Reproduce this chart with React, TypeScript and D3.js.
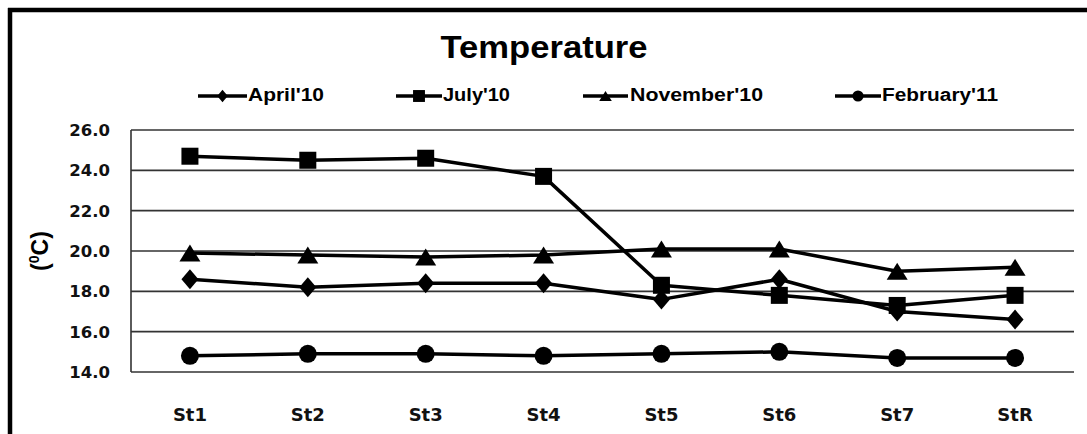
import React from "react";
import * as d3 from "d3";

const categories = ["St1", "St2", "St3", "St4", "St5", "St6", "St7", "StR"];
const april10 = [18.6, 18.2, 18.4, 18.4, 17.6, 18.6, 17.0, 16.6];
const july10 = [24.7, 24.5, 24.6, 23.7, 18.3, 17.8, 17.3, 17.8];
const november10 = [19.9, 19.8, 19.7, 19.8, 20.1, 20.1, 19.0, 19.2];
const february11 = [14.8, 14.9, 14.9, 14.8, 14.9, 15.0, 14.7, 14.7];
const yTicks = [14, 16, 18, 20, 22, 24, 26];
const seriesNames = ["April'10", "July'10", "November'10", "February'11"];

type Shape = "diamond" | "square" | "triangle" | "circle";
const series: { name: string; values: number[]; shape: Shape }[] = [
  { name: seriesNames[0], values: april10, shape: "diamond" },
  { name: seriesNames[1], values: july10, shape: "square" },
  { name: seriesNames[2], values: november10, shape: "triangle" },
  { name: seriesNames[3], values: february11, shape: "circle" },
];

function marker(shape: Shape, cx: number, cy: number, s: number, key?: string | number) {
  if (shape === "diamond") {
    const w = 8.5 * s, h = 10 * s;
    return <path key={key} d={`M${cx},${cy - h}L${cx + w},${cy}L${cx},${cy + h}L${cx - w},${cy}Z`} fill="#000" />;
  }
  if (shape === "square") {
    const h = 8.5 * s;
    return <rect key={key} x={cx - h} y={cy - h} width={2 * h} height={2 * h} fill="#000" />;
  }
  if (shape === "triangle") {
    const w = 10.5 * s, h = 8.5 * s;
    return <path key={key} d={`M${cx},${cy - h}L${cx + w},${cy + h}L${cx - w},${cy + h}Z`} fill="#000" />;
  }
  return <circle key={key} cx={cx} cy={cy} r={9 * s} fill="#000" />;
}

export default function App() {
  const W = 1087, H = 434;
  const left = 131, right = 1074, top = 130, bottom = 372;
  const x = d3.scaleBand<string>().domain(categories).range([left, right]);
  const cx = (c: string) => (x(c) as number) + x.bandwidth() / 2;
  const y = d3.scaleLinear().domain([14, 26]).range([bottom, top]);
  const line = d3.line<number>().x((_, i) => cx(categories[i])).y((v) => y(v));

  const legend = [
    { x1: 198, x2: 247, tx: 248, tw: 76 },
    { x1: 396, x2: 442, tx: 443, tw: 67 },
    { x1: 583, x2: 628, tx: 630, tw: 133 },
    { x1: 835, x2: 881, tx: 882, tw: 116 },
  ];
  const legendScale = [0.62, 0.7, 0.6, 0.62];

  return (
    <svg width={W} height={H} style={{ position: "absolute", left: 0, top: 0, background: "#fff" }}>
      <rect x={0} y={0} width={W} height={H} fill="#fff" />
      {/* outer frame */}
      <line x1={10} y1={8} x2={10} y2={H} stroke="#000" strokeWidth={4.5} />
      <line x1={8} y1={10} x2={W} y2={10} stroke="#000" strokeWidth={4.5} />

      <text x={544} y={58} textAnchor="middle" fontFamily="Liberation Sans, Arial, sans-serif" fontWeight="bold" fontSize={32} textLength={207} lengthAdjust="spacingAndGlyphs">
        Temperature
      </text>

      {series.map((s, i) => {
        const L = legend[i];
        return (
          <g key={s.name}>
            <line x1={L.x1} x2={L.x2} y1={96} y2={96} stroke="#000" strokeWidth={3.5} />
            {marker(s.shape, (L.x1 + L.x2) / 2, 96, legendScale[i])}
            <text x={L.tx} y={101} fontFamily="Liberation Sans, Arial, sans-serif" fontWeight="bold" fontSize={18} textLength={L.tw} lengthAdjust="spacingAndGlyphs">
              {s.name}
            </text>
          </g>
        );
      })}

      {yTicks.map((t) => (
        <g key={t}>
          <line x1={left} x2={right} y1={y(t)} y2={y(t)} stroke="#333" strokeWidth={1.6} />
          <text x={110} y={y(t)} dy="0.36em" textAnchor="end" fontFamily="DejaVu Sans, sans-serif" fontWeight="bold" fontSize={16.5} fill="#111">
            {t.toFixed(1)}
          </text>
        </g>
      ))}
      <line x1={left} x2={left} y1={top} y2={bottom} stroke="#333" strokeWidth={1.6} />

      {categories.map((c) => (
        <text key={c} x={cx(c)} y={421} textAnchor="middle" fontFamily="DejaVu Sans, sans-serif" fontWeight="bold" fontSize={18} fill="#111">
          {c}
        </text>
      ))}

      <text transform="translate(48,251) rotate(-90)" textAnchor="middle" fontFamily="Liberation Sans, Arial, sans-serif" fontWeight="bold" fontSize={23}>
        (<tspan fontSize={14} dy={-9}>0</tspan><tspan dy={9}>C)</tspan>
      </text>

      {series.map((s) => (
        <g key={s.name}>
          <path d={line(s.values) as string} fill="none" stroke="#000" strokeWidth={3.5} strokeLinejoin="round" />
          {s.values.map((v, i) => marker(s.shape, cx(categories[i]), y(v), 1, i))}
        </g>
      ))}
    </svg>
  );
}
